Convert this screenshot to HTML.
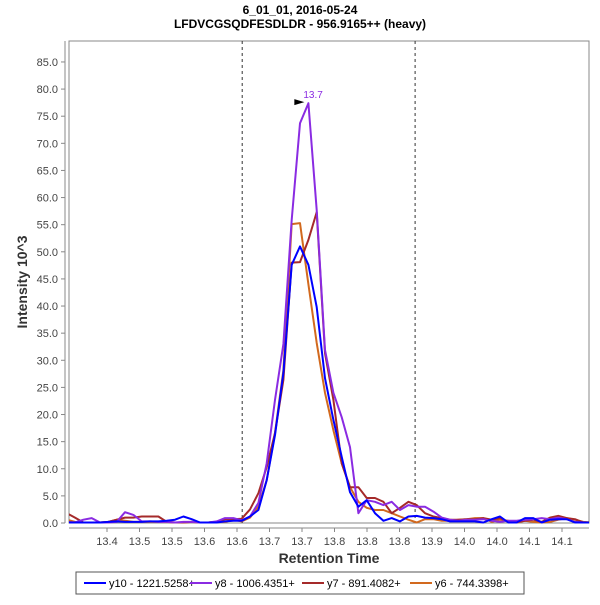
<!DOCTYPE html>
<html><head><meta charset="utf-8"><style>
body{margin:0;background:#fff;width:600px;height:600px;overflow:hidden}
svg text{font-family:"Liberation Sans",sans-serif}
</style></head><body>
<svg id="chart" width="600" height="600">
<defs><clipPath id="pc"><rect x="69" y="41" width="520" height="483"/></clipPath></defs>
<text x="300" y="14" text-anchor="middle" font-size="12" font-weight="bold">6_01_01, 2016-05-24</text>
<text x="300" y="28" text-anchor="middle" font-size="12" font-weight="bold">LFDVCGSQDFESDLDR - 956.9165++ (heavy)</text>
<rect x="69" y="41" width="520" height="482" fill="#fff" stroke="#888" stroke-width="1"/>
<line x1="65" y1="41" x2="65" y2="523" stroke="#888"/>
<line x1="69" y1="528" x2="589" y2="528" stroke="#888"/>
<g id="yticks"></g><g id="xticks"></g>
<text transform="translate(27,282) rotate(-90)" text-anchor="middle" font-size="14" font-weight="bold" fill="#333">Intensity 10^3</text>
<text x="329" y="563" text-anchor="middle" font-size="14" font-weight="bold" fill="#333">Retention Time</text>
<g id="series" clip-path="url(#pc)"></g>
<g id="marks"></g>
<g id="legend">
<rect x="76" y="572" width="448" height="22" fill="#fff" stroke="#555"/>
</g>
</svg>
<script>
const tickVals=[0,5,10,15,20,25,30,35,40,45,50,55,60,65,70,75,80,85];
const xTickTimes=[13.40,13.45,13.50,13.55,13.60,13.65,13.70,13.75,13.80,13.85,13.90,13.95,14.00,14.05,14.10];
const xTickLabels=["13.4","13.5","13.5","13.6","13.6","13.7","13.7","13.8","13.8","13.8","13.9","14.0","14.0","14.1","14.1"];
const t0=13.338, dt=0.01282;
const blue=[0.1,0.1,0.1,0.1,0.1,0.2,0.3,0.2,0.2,0.2,0.3,0.3,0.4,0.6,1.2,0.7,0.1,0.1,0.1,0.3,0.4,0.4,1.2,2.4,7.9,16.2,27.7,47.6,51,47.6,39.8,26.7,19,12.2,5.7,3,4.2,1.8,0.4,0.9,0.3,1.2,1.3,1.0,0.9,0.7,0.3,0.3,0.3,0.3,0.1,0.7,1.2,0.1,0.1,0.9,0.9,0.1,0.6,0.7,0.7,0.1,0.1,0.1];
const purple=[0.2,0.1,0.6,0.9,0.1,0.1,0.2,2.0,1.5,0.3,0.3,0.2,0.2,0.1,0.2,0.2,0.1,0.1,0.3,0.9,0.9,0.5,1.2,3.7,11,22.7,33,55.9,73.7,77.4,57.7,31.9,24,19.5,14,1.8,4.2,3.9,3.3,3.9,2.4,3.3,3.0,3.0,2.1,1.0,0.6,0.4,0.6,0.6,0.7,0.4,0.2,0.4,0.4,0.6,0.7,0.9,0.7,1.0,0.7,0.2,0.1,0.1];
const darkred=[1.8,1.0,0.1,0.1,0.1,0.2,0.6,1.0,1.0,1.2,1.2,1.2,0.2,0.1,0.1,0.2,0.1,0.1,0.2,0.7,0.7,0.8,2.5,5.5,10.3,16.6,26.4,48,48.1,52.2,57.3,31.3,22.7,11,6.6,6.6,4.6,4.6,3.9,1.8,2.8,3.9,3.3,1.8,1.2,0.9,0.6,0.6,0.7,0.7,0.9,0.6,0.9,0.2,0.2,0.4,0.6,0.2,1.0,1.3,0.9,0.7,0.1,0.1];
const orange=[0.6,0.2,0.1,0.1,0.1,0.2,0.6,0.4,0.2,0.2,0.2,0.2,0.2,0.1,0.1,0.2,0.1,0.1,0.2,0.2,0.6,0.3,1.0,3,7.9,16.6,28.2,55.1,55.3,44,33.2,24,17.1,11,6.6,3.9,2.8,2.4,2.4,1.8,1.2,0.6,0.1,0.7,0.7,0.4,0.4,0.6,0.7,0.9,0.9,0.2,0.6,0.4,0.1,0.4,0.2,0.1,0.2,0.6,0.9,0.6,0.2,0.1];
const seriesNames=["y10 - 1221.5258+","y8 - 1006.4351+","y7 - 891.4082+","y6 - 744.3398+"];
const boundaries=[13.608,13.874];
const NS="http://www.w3.org/2000/svg";
const X=t=>107+(t-13.40)*650;
const Y=v=>523-v*5.424;
function mk(tag,attrs,parent){const e=document.createElementNS(NS,tag);for(const k in attrs)e.setAttribute(k,attrs[k]);parent.appendChild(e);return e;}
const yt=document.getElementById('yticks');
tickVals.forEach(v=>{
  const l=mk('line',{x1:61,x2:65,y1:Y(v),y2:Y(v),stroke:'#888'},yt);
  
  
  const t=mk('text',{x:58,y:Y(v)+4,'text-anchor':'end','font-size':11,fill:'#444'},yt);
  t.textContent=v.toFixed(1);
  
  
});
const xt=document.getElementById('xticks');
xTickTimes.forEach((tv,i)=>{
  const l=mk('line',{x1:X(tv),x2:X(tv),y1:528,y2:532,stroke:'#888'},xt);
  
  
  const t=mk('text',{x:X(tv),y:545,'text-anchor':'middle','font-size':11,fill:'#444'},xt);
  t.textContent=xTickLabels[i];
  
  
});
const sg=document.getElementById('series');
boundaries.forEach(b=>{
  const l=mk('line',{x1:X(b),x2:X(b),y1:41,y2:523,stroke:'#333','stroke-dasharray':'3,3'},sg);
  
  
});
const colors=['#0000ff','#8a2be2','#a52a2a','#d2691e'];
const data=[blue,purple,darkred,orange];
[3,2,1,0].forEach(s=>{
  const pts=data[s].map((v,i)=>X(t0+i*dt).toFixed(1)+','+Y(v).toFixed(1)).join(' ');
  const p=mk('polyline',{points:pts,fill:'none',stroke:colors[s],'stroke-width':2,'stroke-linejoin':'round'},sg);
  
  
});
const mg=document.getElementById('marks');
let pi=0;purple.forEach((v,i)=>{if(v>purple[pi])pi=i;});
const px=X(t0+pi*dt), py=Y(purple[pi]);
const arr=mk('polygon',{points:`${px-14},${py-4} ${px-4},${py-1} ${px-14},${py+2}`,fill:'#000'},mg);


const pl=mk('text',{x:px-5,y:py-5,'font-size':10,fill:'#8a2be2'},mg);
pl.textContent=(t0+pi*dt).toFixed(1);


const lg=document.getElementById('legend');
const lx=[84,190,302,410];
seriesNames.forEach((n,i)=>{
  const l=mk('line',{x1:lx[i],x2:lx[i]+22,y1:583,y2:583,stroke:colors[i],'stroke-width':2},lg);
  
  
  const t=mk('text',{x:lx[i]+25,y:587,'font-size':11,fill:'#000'},lg);
  t.textContent=n;
  
  
});
</script>
</body></html>
